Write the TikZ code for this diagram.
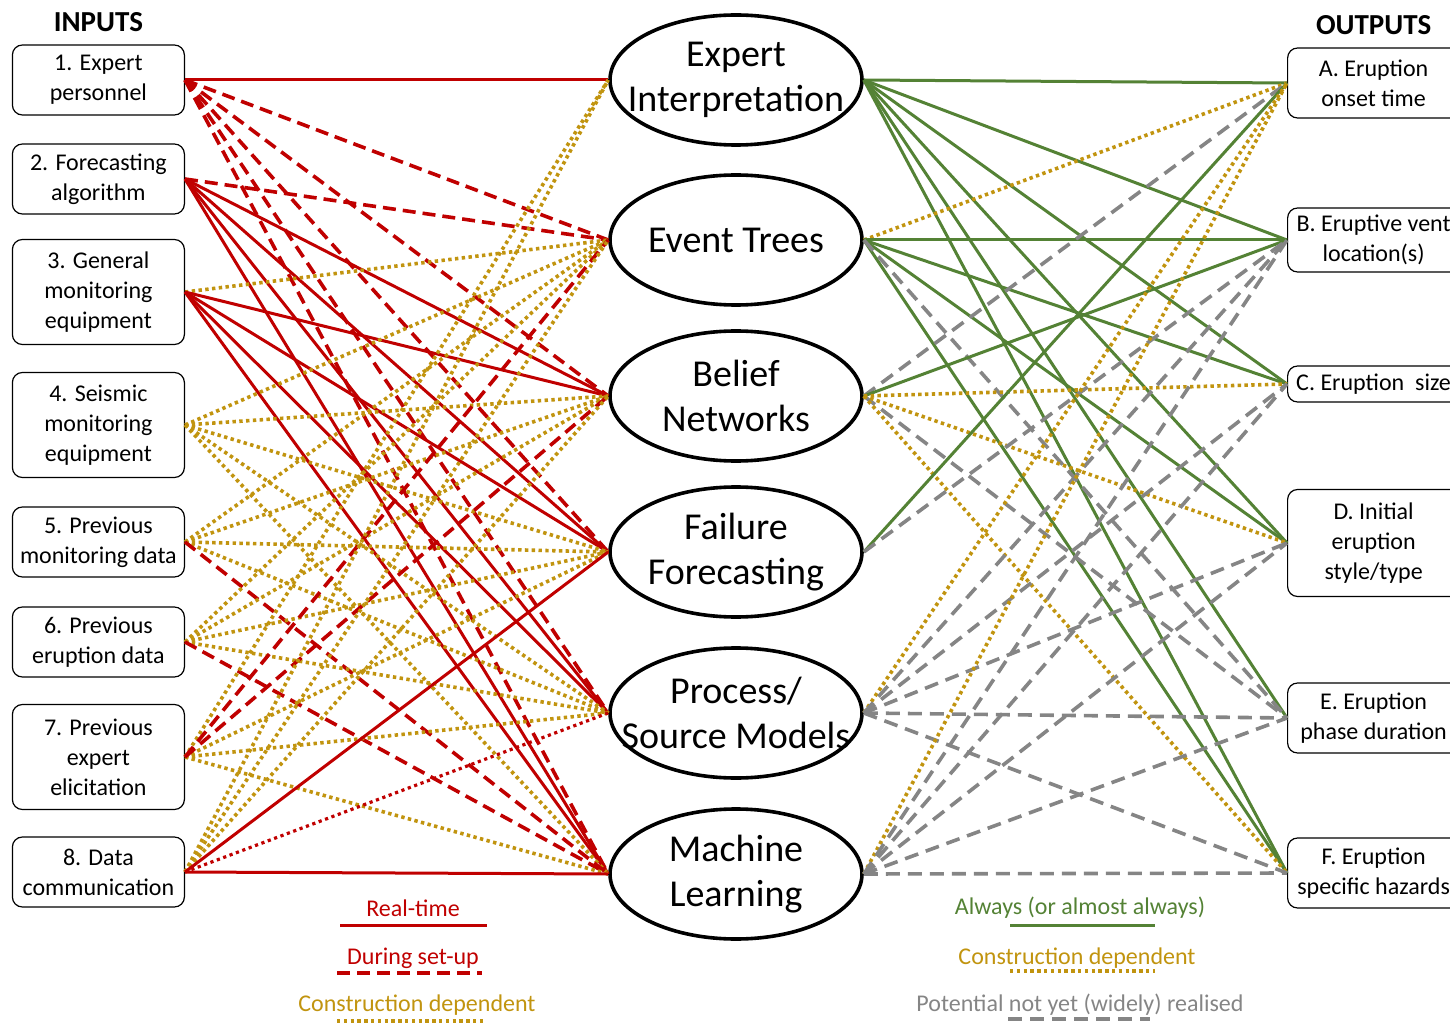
\documentclass[tikz,border=0pt]{standalone}
\usepackage{fontspec}
\setmainfont{Carlito}
\usepackage{xcolor}
\usepackage{tikz}
\usetikzlibrary{positioning}
\usetikzlibrary{shapes.geometric}

\definecolor{rtred}{RGB}{192,0,0}
\definecolor{cdgold}{RGB}{193,148,15}
\definecolor{okgreen}{RGB}{84,130,53}
\definecolor{potgray}{RGB}{133,133,133}

\begin{document}
\begin{tikzpicture}[x=0.5pt, y=-0.5pt,
    node distance = 3pt and 0pt,% headers sit just above the first boxes
    inbox/.style = {draw, rounded corners=5pt, line width=0.6pt, minimum width=86pt,
                    minimum height=35pt, inner sep=3pt, align=center,
                    font=\fontsize{12}{15}\selectfont},% input boxes
    outbox/.style = {inbox},% output boxes
    method/.style = {ellipse, draw, line width=1.8pt, fill=white, minimum width=126pt,
                     minimum height=65pt, inner xsep=-14pt, inner ysep=0pt, align=center,
                     font=\fontsize{19}{22.5}\selectfont},% forecasting methods
    header/.style = {font=\fontsize{14.5}{17}\selectfont\bfseries},
    legend/.style = {font=\fontsize{12}{14}\selectfont},
    realtime/.style = {draw=rtred, line width=1.5pt},
    setup/.style = {draw=rtred, line width=1.8pt, dash pattern=on 6.5pt off 3.5pt},
    construct/.style = {draw=cdgold, line width=1.8pt, dash pattern=on 1.7pt off 1.7pt},
    reddots/.style = {draw=rtred, line width=1.6pt, dash pattern=on 1.6pt off 1.8pt},
    always/.style = {draw=okgreen, line width=1.5pt},
    potential/.style = {draw=potgray, line width=1.8pt, dash pattern=on 7pt off 4pt}
    ]
    \useasboundingbox (0,0) rectangle (1450,1026);

    % inputs
    \node (in1) [inbox, anchor=east] at (185,80) {1. Expert\\personnel};
    \node (in2) [inbox, anchor=east] at (185,179) {2. Forecasting\\algorithm};
    \node (in3) [inbox, anchor=east, minimum height=52.5pt] at (185,292) {3. General\\monitoring\\equipment};
    \node (in4) [inbox, anchor=east, minimum height=52.5pt] at (185,425) {4. Seismic\\monitoring\\equipment};
    \node (in5) [inbox, anchor=east] at (185,542) {5. Previous\\monitoring data};
    \node (in6) [inbox, anchor=east] at (185,642) {6. Previous\\eruption data};
    \node (in7) [inbox, anchor=east, minimum height=52.5pt] at (185,757) {7. Previous\\expert\\elicitation};
    \node (in8) [inbox, anchor=east] at (185,872) {8. Data\\communication};
    \node (inputs) [header, above=of in1] {INPUTS};

    % methods
    \node (expert) [method] at (736,80) {Expert\\Interpretation};
    \node (trees) [method] at (736,240) {Event Trees};
    \node (belief) [method] at (736,396) {Belief\\Networks};
    \node (failure) [method] at (736,552) {Failure\\Forecasting};
    \node (process) [method] at (736,713) {Process/\\Source Models};
    \node (learning) [method] at (736,874) {Machine\\Learning};

    % outputs
    \node (outA) [outbox, anchor=west] at (1287,83) {A. Eruption\\onset time};
    \node (outB) [outbox, anchor=west, minimum height=32pt] at (1287,240) {B. Eruptive vent\\location(s)};
    \node (outC) [outbox, anchor=west, minimum height=18pt] at (1287,384) {C. Eruption\ \ size};
    \node (outD) [outbox, anchor=west, minimum height=53.5pt] at (1287,543) {D. Initial\\eruption\\style/type};
    \node (outE) [outbox, anchor=west] at (1287,718) {E. Eruption\\phase duration};
    \node (outF) [outbox, anchor=west] at (1287,873) {F. Eruption\\specific hazards};
    \node (outputs) [header, above=of outA] {OUTPUTS};

    % inputs -> methods
    \draw[realtime] (in1.east) -- (expert.west);
    \draw[setup] (in1.east) edge (trees.west) edge (belief.west) edge (failure.west)
                            edge (process.west) edge (learning.west);
    \draw[setup] (in2.east) -- (trees.west);
    \draw[realtime] (in2.east) edge (belief.west) edge (failure.west)
                               edge (process.west) edge (learning.west);
    \draw[construct] (in3.east) -- (trees.west);
    \draw[realtime] (in3.east) edge (belief.west) edge (failure.west)
                               edge (process.west) edge (learning.west);
    \draw[construct] (in4.east) edge (trees.west) edge (belief.west) edge (failure.west)
                                edge (process.west) edge (learning.west);
    \draw[construct] (in5.east) edge (trees.west) edge (belief.west) edge (failure.west)
                                edge (process.west);
    \draw[setup] (in5.east) -- (learning.west);
    \draw[construct] (in6.east) edge (trees.west) edge (belief.west) edge (failure.west)
                                edge (process.west);
    \draw[setup] (in6.east) -- (learning.west);
    \draw[construct] (in7.east) edge (expert.west) edge (failure.west)
                                edge (process.west) edge (learning.west);
    \draw[setup] (in7.east) edge (trees.west) edge (belief.west);
    \draw[construct] (in8.east) edge (expert.west) edge (trees.west) edge (belief.west);
    \draw[reddots] (in8.east) -- (process.west);
    \draw[realtime] (in8.east) edge (failure.west) edge (learning.west);

    % methods -> outputs
    \draw[always] (expert.east) edge (outA.west) edge (outB.west) edge (outC.west)
                                edge (outD.west) edge (outE.west) edge (outF.west);
    \draw[construct] (trees.east) -- (outA.west);
    \draw[always] (trees.east) edge (outB.west) edge (outC.west) edge (outD.west) edge (outF.west);
    \draw[potential] (trees.east) -- (outE.west);
    \draw[potential] (belief.east) edge (outA.west) edge (outE.west);
    \draw[always] (belief.east) -- (outB.west);
    \draw[construct] (belief.east) edge (outC.west) edge (outD.west) edge (outF.west);
    \draw[always] (failure.east) -- (outA.west);
    \draw[potential] (failure.east) -- (outB.west);
    \draw[construct] (process.east) -- (outA.west);
    \draw[potential] (process.east) edge (outB.west) edge (outC.west) edge (outD.west)
                                    edge (outE.west) edge (outF.west);
    \draw[construct] (learning.east) -- (outA.west);
    \draw[potential] (learning.east) edge (outB.west) edge (outC.west) edge (outD.west)
                                     edge (outE.west) edge (outF.west);

    % legend, left
    \node (lgreal) [legend, text=rtred] at (413,908) {Real-time};
    \coordinate (lr1) at (340,925); \coordinate (lr2) at (487,925);
    \draw[realtime] (lr1) -- (lr2);
    \node (lgsetup) [legend, text=rtred] at (413,958) {During set-up};
    \coordinate (ls1) at (337,973); \coordinate (ls2) at (482,973);
    \draw[setup] (ls1) -- (ls2);
    \node (lgbuildL) [legend, text=cdgold] at (417,1005) {Construction dependent};
    \coordinate (lc1) at (337,1021); \coordinate (lc2) at (484,1021);
    \draw[construct] (lc1) -- (lc2);

    % legend, right
    \node (lgalways) [legend, text=okgreen] at (1080,908) {Always (or almost always)};
    \coordinate (ra1) at (1010,925); \coordinate (ra2) at (1155,925);
    \draw[always] (ra1) -- (ra2);
    \node (lgbuildR) [legend, text=cdgold] at (1077,958) {Construction dependent};
    \coordinate (rc1) at (1010,971); \coordinate (rc2) at (1155,971);
    \draw[construct] (rc1) -- (rc2);
    \node (lgpot) [legend, text=potgray] at (1080,1005) {Potential not yet (widely) realised};
    \coordinate (rp1) at (1008,1019); \coordinate (rp2) at (1150,1019);
    \draw[potential] (rp1) -- (rp2);
\end{tikzpicture}
\end{document}
